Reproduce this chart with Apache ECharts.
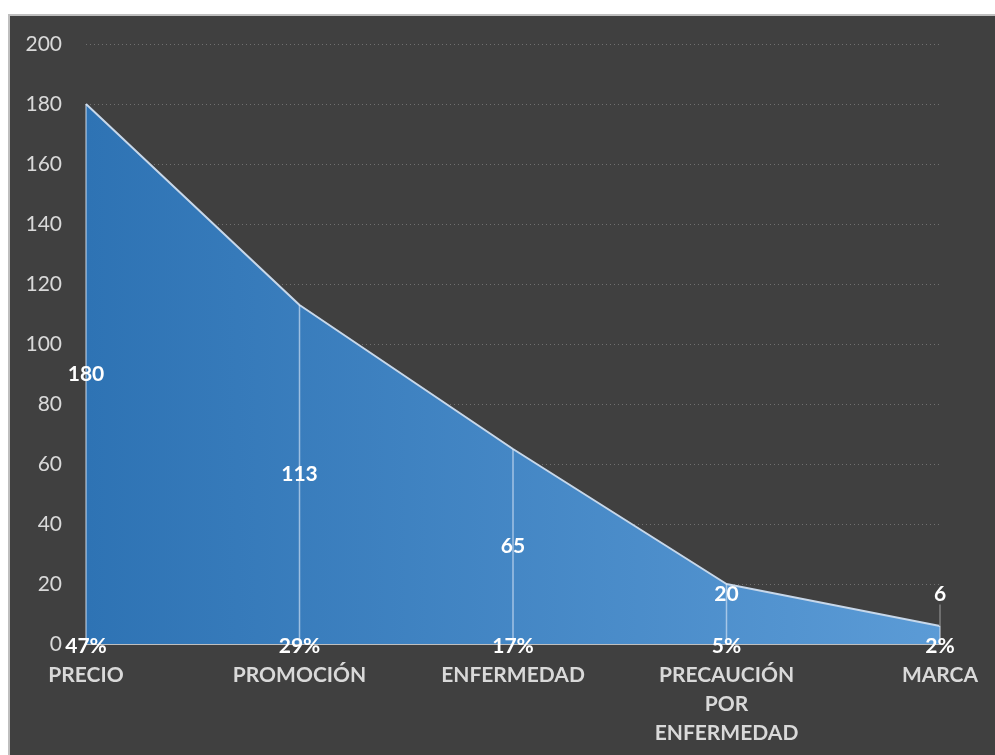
<!DOCTYPE html>
<html>
<head>
<meta charset="utf-8">
<script src="https://cdn.jsdelivr.net/npm/echarts@6/dist/echarts.min.js"></script>
<style>
  html, body { margin: 0; padding: 0; background: #ffffff; }
  #frame {
    position: absolute; left: 8px; top: 14px; width: 987px; height: 741px;
    border-left: 2px solid #bfbfbf; border-top: 2px solid #bfbfbf;
    box-sizing: border-box; background: #404040;
  }
  #chart { width: 985px; height: 739px; }
</style>
</head>
<body>
<div id="frame"><div id="chart"></div></div>
<script>
// Motivos de compra: frecuencia por motivo
const categories = ['PRECIO', 'PROMOCIÓN', 'ENFERMEDAD', 'PRECAUCIÓN\nPOR\nENFERMEDAD', 'MARCA'];
const counts = [180, 113, 65, 20, 6];
const yTicks = [0, 20, 40, 60, 80, 100, 120, 140, 160, 180, 200];

const total = counts.reduce((a, b) => a + b, 0);
const shares = counts.map(v => Math.round(v / total * 100) + '%');

const valueLabel = {
  show: true, position: 'inside', color: '#ffffff',
  fontFamily: 'Lato', fontWeight: 'bold', fontSize: 21
};

// per-point label placement for the two small values
const barData = counts.map((v, i) => {
  if (i === 3) {
    return { value: v, label: { position: ['50%', 10], align: 'center', verticalAlign: 'middle' } };
  }
  if (i === 4) {
    return {
      value: v,
      label: { position: ['50%', -32], align: 'center', verticalAlign: 'middle' },
      labelLine: { show: true, lineStyle: { color: '#7f7f7f', width: 1.5 } }
    };
  }
  return v;
});

const chart = echarts.init(document.getElementById('chart'), null, { renderer: 'canvas' });
chart.setOption({
  backgroundColor: '#404040',
  animation: false,
  grid: { left: 76, right: 55, top: 28, bottom: 111 },
  xAxis: {
    type: 'category',
    data: categories,
    boundaryGap: false,
    axisLine: { show: true, lineStyle: { color: '#bfbfbf', width: 2 } },
    axisTick: { show: false },
    axisLabel: {
      color: '#d9d9d9', fontFamily: 'Lato', fontWeight: 'bold', fontSize: 21,
      lineHeight: 29, margin: 17, interval: 0
    },
    z: 1
  },
  yAxis: {
    type: 'value',
    min: yTicks[0],
    max: yTicks[yTicks.length - 1],
    interval: yTicks[1] - yTicks[0],
    axisLine: { show: false },
    axisTick: { show: false },
    axisLabel: { color: '#d9d9d9', fontFamily: 'Lato', fontSize: 21, margin: 24 },
    splitLine: { show: true, lineStyle: { color: '#707070', width: 1, type: [1, 3] } }
  },
  series: [
    {
      type: 'line',
      data: counts,
      symbol: 'none',
      lineStyle: { color: '#c8d8ea', width: 2 },
      areaStyle: {
        opacity: 1,
        color: new echarts.graphic.LinearGradient(0, 0, 1, 0, [
          { offset: 0, color: '#2e73b4' },
          { offset: 1, color: '#5b9bd6' }
        ])
      },
      z: 2
    },
    {
      type: 'bar',
      data: barData,
      barWidth: 1.5,
      itemStyle: { color: 'rgba(225,235,248,0.6)' },
      label: valueLabel,
      z: 3
    },
    {
      // share of the total, written over the base of each point
      type: 'line',
      data: counts.map(() => 0),
      symbol: 'circle',
      symbolSize: 1,
      showAllSymbol: true,
      itemStyle: { color: 'rgba(0,0,0,0)' },
      lineStyle: { opacity: 0 },
      label: {
        show: true, position: 'inside', offset: [0, 2],
        color: '#ffffff', fontFamily: 'Lato', fontWeight: 'bold', fontSize: 21,
        formatter: p => shares[p.dataIndex]
      },
      z: 4
    }
  ]
});
</script>
</body>
</html>
